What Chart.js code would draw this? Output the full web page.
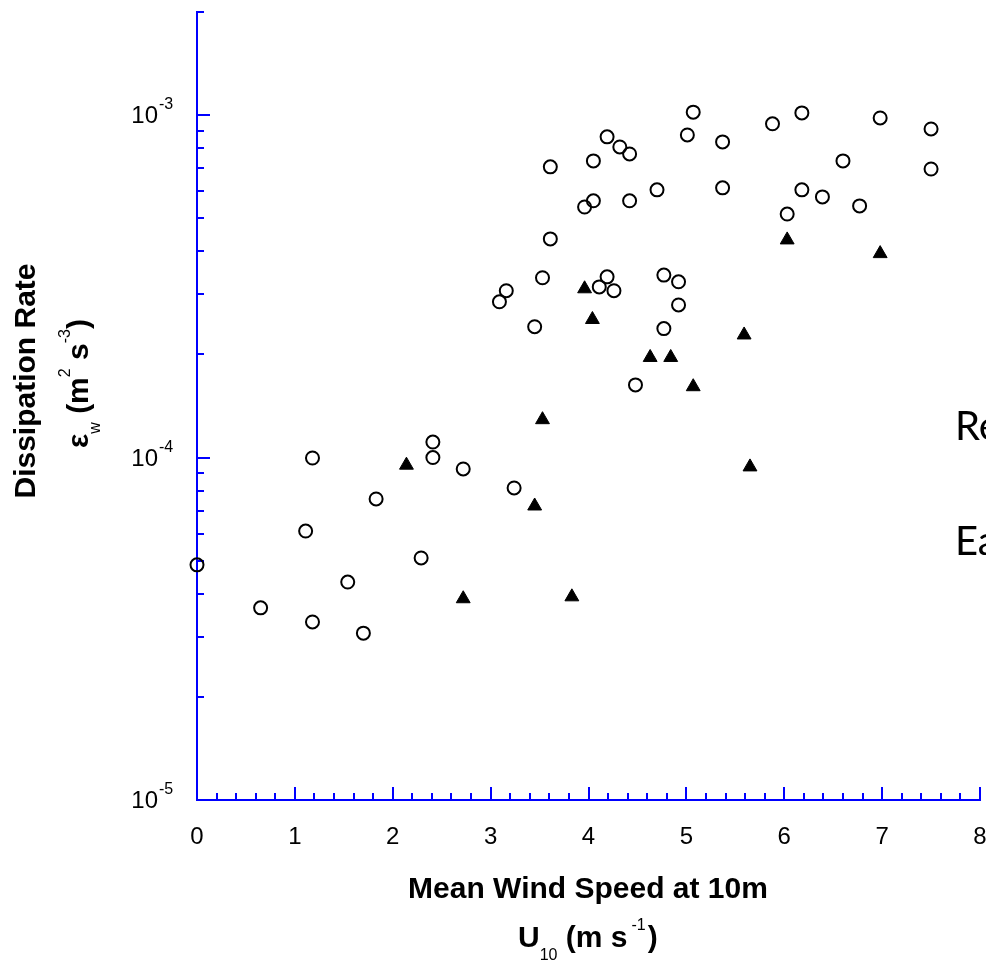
<!DOCTYPE html>
<html>
<head>
<meta charset="utf-8">
<title>Dissipation rate vs wind speed</title>
<script src="https://cdn.jsdelivr.net/npm/chart.js@4.4.1/dist/chart.umd.min.js"></script>
<style>
  html, body { margin: 0; padding: 0; background: #fff; overflow: hidden; }
  #wrap { position: relative; width: 986px; height: 962px; overflow: hidden; }
  #chart { position: absolute; left: 0; top: 0; }
  .slideText {
    position: absolute;
    font-family: Lato, "Noto Sans", sans-serif;
    font-size: 40px;
    line-height: 1;
    color: #000;
    white-space: nowrap;
  }
</style>
</head>
<body>
<div id="wrap">
  <canvas id="chart" width="1010" height="962"></canvas>
  <div class="slideText" style="left:955px; top:405px;">Re</div>
  <div class="slideText" style="left:955px; top:520px;">Ea</div>
</div>
<script>
// open circles
const circleSpeed = [0.00, 0.65, 1.11, 1.18, 1.18, 1.54, 1.70, 1.83, 2.29, 2.41, 2.41, 2.72, 3.24,
  3.09, 3.16, 3.45, 3.53, 3.61, 3.61, 3.96, 4.05, 4.05, 4.11, 4.19, 4.26, 4.19, 4.32, 4.42, 4.42,
  4.70, 4.48, 4.77, 4.92, 4.92, 4.77, 5.01, 5.07, 5.37, 5.37, 5.88, 6.03, 6.18, 6.18, 6.39, 6.60,
  6.77, 6.98, 7.50, 7.50];
const circleRate = [4.86e-5, 3.64e-5, 6.10e-5, 9.97e-5, 3.31e-5, 4.33e-5, 3.07e-5, 7.57e-5, 5.09e-5,
  1.11e-4, 1.00e-4, 9.26e-5, 8.15e-5, 2.85e-4, 3.07e-4, 2.41e-4, 3.35e-4, 4.35e-4, 7.06e-4, 5.39e-4,
  5.62e-4, 7.35e-4, 3.15e-4, 3.37e-4, 3.07e-4, 8.64e-4, 8.07e-4, 7.70e-4, 5.62e-4, 6.05e-4, 1.63e-4,
  3.41e-4, 3.26e-4, 2.79e-4, 2.38e-4, 8.75e-4, 1.02e-3, 8.35e-4, 6.13e-4, 9.43e-4, 5.14e-4, 1.015e-3,
  6.05e-4, 5.77e-4, 7.35e-4, 5.43e-4, 9.81e-4, 9.11e-4, 6.96e-4];

// filled triangles
const triangleSpeed = [2.14, 2.72, 3.45, 3.53, 3.83, 3.96, 4.04, 4.63, 4.84, 5.07, 5.59, 5.65, 6.03, 6.98];
const triangleRate = [9.5e-5, 3.87e-5, 7.22e-5, 1.29e-4, 3.92e-5, 3.11e-4, 2.53e-4, 1.96e-4, 1.96e-4,
  1.61e-4, 2.28e-4, 9.39e-5, 4.32e-4, 3.94e-4];

// axes
const xTickLabels = ["0", "1", "2", "3", "4", "5", "6", "7", "8"];
const yTickValues = [1e-5, 1e-4, 1e-3];
const yTickExponents = ["-5", "-4", "-3"];
const yMin = 1e-5;
const yMax = 2e-3;

const axisBlue = "#0000ff";
const FONT = "'Liberation Sans', Arial, sans-serif";

Chart.defaults.font.family = FONT;

function toPoints(xs, ys) {
  return xs.map((x, i) => ({ x: x, y: ys[i] }));
}

// draws a run of text pieces (normal / sub / sup) along the baseline
function drawRich(ctx, parts, x, y) {
  let cx = x;
  parts.forEach(p => {
    ctx.font = p.font;
    ctx.fillText(p.text, cx, y + (p.dy || 0));
    cx += ctx.measureText(p.text).width + (p.gap || 0);
  });
}

const axisDecor = {
  id: "axisDecor",
  beforeDatasetsDraw(chart) {
    const { ctx, chartArea, scales } = chart;
    const xs = scales.x;
    const ys = scales.y;

    ctx.save();
    ctx.strokeStyle = axisBlue;
    ctx.lineWidth = 2;
    ctx.beginPath();

    // x ticks, every 0.2, pointing inward
    for (let i = 0; i <= 40; i++) {
      const px = Math.round(xs.getPixelForValue(i / 5));
      const len = i % 5 === 0 ? 13 : 7;
      ctx.moveTo(px, chartArea.bottom);
      ctx.lineTo(px, chartArea.bottom - len);
    }

    // y ticks, decades long, 2..9 short
    yTickValues.forEach(d => {
      for (let k = 1; k <= 9; k++) {
        const v = k * d;
        if (v > yMax * 1.0001) break;
        const py = Math.round(ys.getPixelForValue(v));
        const len = k === 1 ? 13 : 7;
        ctx.moveTo(chartArea.left, py);
        ctx.lineTo(chartArea.left + len, py);
      }
    });
    ctx.stroke();
    ctx.restore();
  },
  afterDraw(chart) {
    const { ctx, scales } = chart;
    const ys = scales.y;

    ctx.save();
    ctx.fillStyle = "#000";

    // y tick labels 10^n
    yTickValues.forEach((v, i) => {
      const py = ys.getPixelForValue(v);
      ctx.font = "24px " + FONT;
      ctx.textAlign = "right";
      ctx.textBaseline = "alphabetic";
      ctx.fillText("10", 158, py + 8);
      ctx.textAlign = "left";
      ctx.font = "16px " + FONT;
      ctx.fillText(yTickExponents[i], 159, py - 6);
    });

    // x title
    ctx.textAlign = "center";
    ctx.textBaseline = "alphabetic";
    ctx.font = "bold 30px " + FONT;
    ctx.fillText("Mean Wind Speed at 10m", 588, 898);

    ctx.textAlign = "left";
    drawRich(ctx, [
      { text: "U", font: "bold 30px " + FONT },
      { text: "10", font: "16px " + FONT, dy: 13 },
      { text: " (m s", font: "bold 30px " + FONT, gap: 4 },
      { text: "-1", font: "16px " + FONT, dy: -17, gap: 2 },
      { text: ")", font: "bold 30px " + FONT }
    ], 518, 947);

    // y title, rotated
    ctx.translate(35, 381);
    ctx.rotate(-Math.PI / 2);
    ctx.textAlign = "center";
    ctx.font = "bold 30px " + FONT;
    ctx.fillText("Dissipation Rate", 0, 0);
    ctx.setTransform(1, 0, 0, 1, 0, 0);

    ctx.translate(88, 448);
    ctx.rotate(-Math.PI / 2);
    ctx.textAlign = "left";
    drawRich(ctx, [
      { text: "\u03b5", font: "bold 30px " + FONT },
      { text: "w", font: "16px " + FONT, dy: 12 },
      { text: " (m", font: "bold 30px " + FONT },
      { text: "2", font: "16px " + FONT, dy: -18 },
      { text: " s", font: "bold 30px " + FONT },
      { text: "-3", font: "16px " + FONT, dy: -18 },
      { text: ")", font: "bold 30px " + FONT }
    ], 0, 0);
    ctx.restore();
  }
};

new Chart(document.getElementById("chart"), {
  type: "scatter",
  data: {
    datasets: [
      {
        label: "open",
        data: toPoints(circleSpeed, circleRate),
        pointStyle: "circle",
        pointRadius: 6.5,
        pointHoverRadius: 6.5,
        borderWidth: 2,
        borderColor: "#000",
        backgroundColor: "rgba(0,0,0,0)",
        clip: false
      },
      {
        label: "filled",
        data: toPoints(triangleSpeed, triangleRate),
        pointStyle: "triangle",
        pointRadius: 8,
        pointHoverRadius: 8,
        borderWidth: 1,
        borderColor: "#000",
        backgroundColor: "#000",
        clip: false
      }
    ]
  },
  options: {
    responsive: false,
    animation: false,
    devicePixelRatio: 1,
    layout: { padding: { left: 0, top: 12, right: 30, bottom: 0 } },
    plugins: {
      legend: { display: false },
      tooltip: { enabled: false }
    },
    scales: {
      x: {
        type: "linear",
        min: 0,
        max: 8,
        grid: { display: false, drawTicks: false },
        border: { display: true, color: axisBlue, width: 2 },
        ticks: {
          stepSize: 1,
          autoSkip: false,
          maxRotation: 0,
          padding: 23,
          color: "#000",
          font: { size: 24 },
          callback: (v, i) => xTickLabels[i]
        },
        afterFit(scale) { scale.height = 162; }
      },
      y: {
        type: "logarithmic",
        min: yMin,
        max: yMax,
        grid: { display: false, drawTicks: false },
        border: { display: true, color: axisBlue, width: 2 },
        ticks: { display: false },
        afterFit(scale) { scale.width = 197; }
      }
    }
  },
  plugins: [axisDecor]
});
</script>
</body>
</html>
